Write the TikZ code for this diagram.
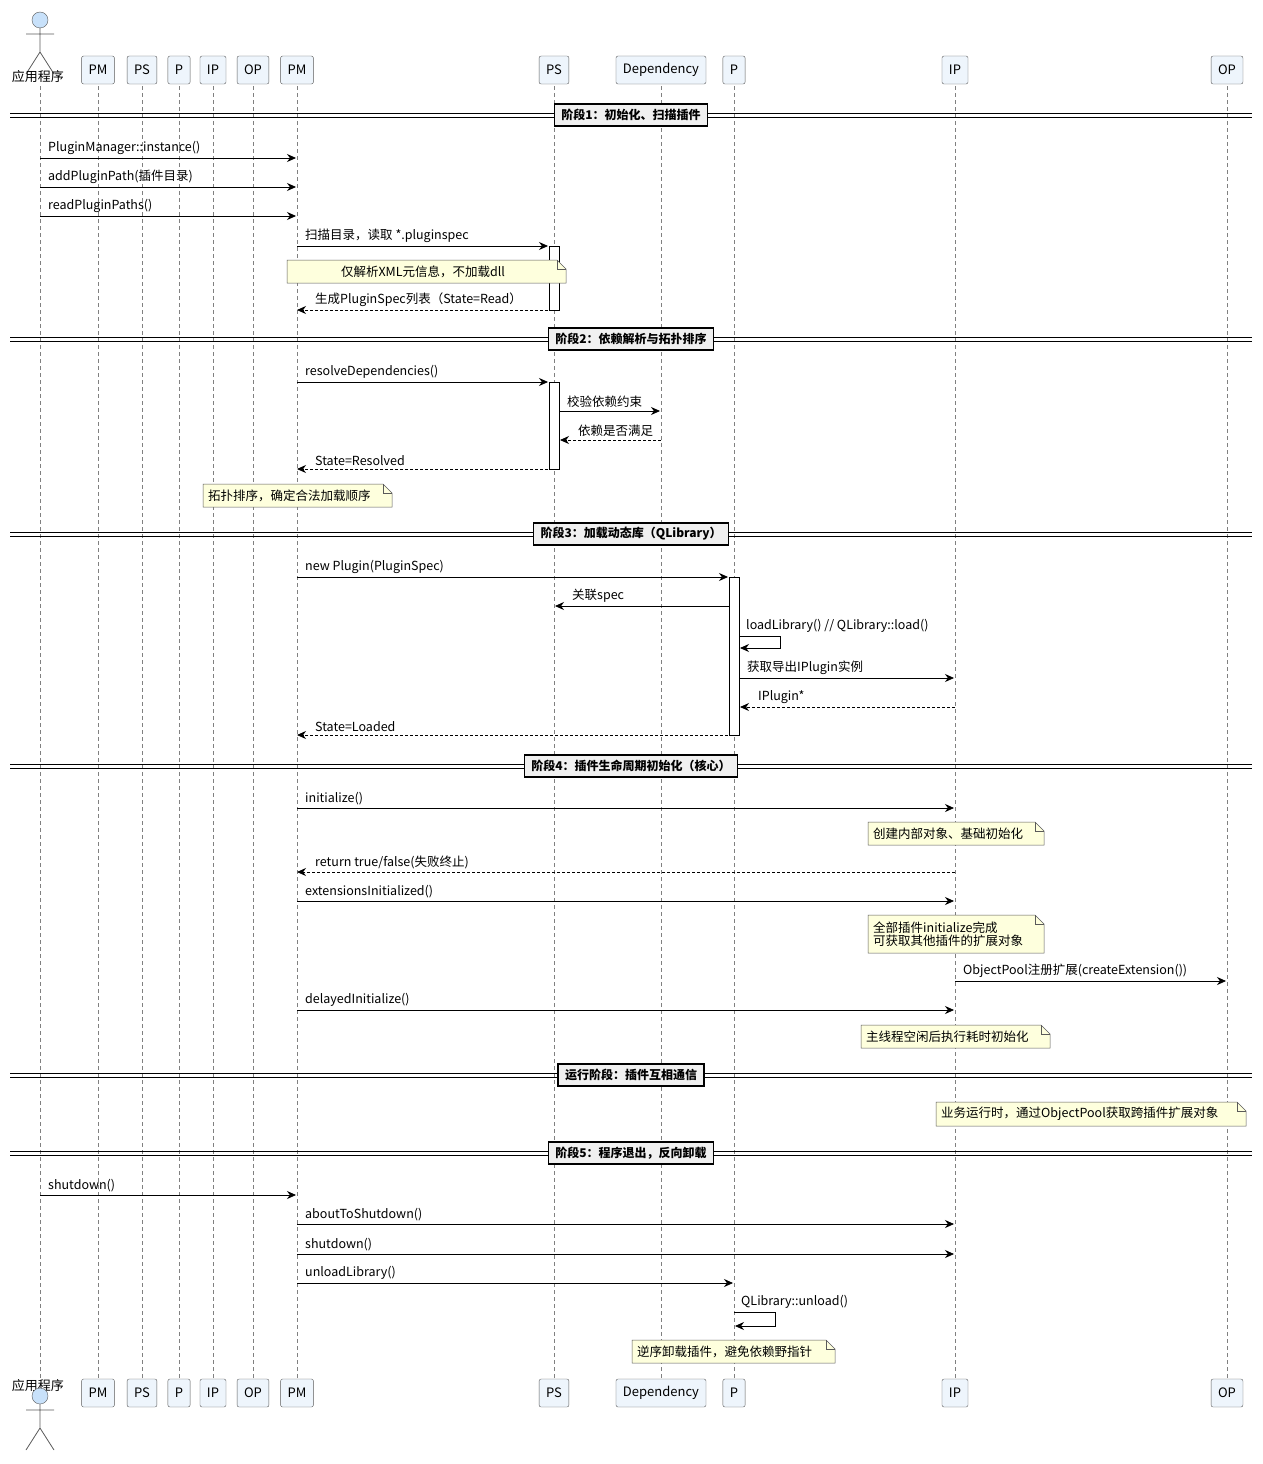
\documentclass[tikz,border=0pt]{standalone}
\usepackage{fontspec}
\setmainfont{Noto Sans CJK SC}
\usetikzlibrary{arrows.meta}
\definecolor{pbox}{RGB}{238,245,252}
\definecolor{notef}{RGB}{254,255,221}
\definecolor{lgray}{RGB}{90,90,90}
\definecolor{actf}{RGB}{200,225,250}
\tikzset{
 part/.style={draw=lgray,fill=pbox,rounded corners=2,minimum height=28,inner xsep=7,font=\fontsize{13}{15}\selectfont},
 life/.style={draw=gray,dash pattern=on 4 off 3,line width=0.6},
 msg/.style={-{Stealth[length=9,width=8]},line width=0.8},
 ret/.style={msg,dash pattern=on 3 off 2},
 lab/.style={font=\fontsize{12.5}{14.5}\selectfont,inner sep=0},
 divbox/.style={draw,line width=1.2,fill=gray!12,font=\bfseries\fontsize{12}{14}\selectfont,inner xsep=7,minimum height=22},
 act/.style={draw,fill=white,line width=0.7},
 notes/.style={draw=lgray,fill=notef,line width=0.5},
}
\newcommand{\rmsg}[5]{\draw[#5] (#2,#1) -- (#3,#1);
 \node[lab,anchor=south west] at (#2+8,#1-3) {#4};}
\newcommand{\lmsg}[5]{\draw[#5] (#2,#1) -- (#3,#1);
 \node[lab,anchor=south west] at (#3+18,#1-3) {#4};}
\newcommand{\mynote}[6]{\draw[notes] (#1,#2) -- (#3-9,#2) -- (#3,#2+9) -- (#3,#4) -- (#1,#4) -- cycle;
 \draw[notes,fill=none] (#3-9,#2) -- (#3-9,#2+9) -- (#3,#2+9);
 \node[lab,align=left,anchor=west] at (#1+5,#2/2+#4/2) {#5};}
\newcommand{\divider}[2]{\draw[line width=0.8] (10,#1-2) -- (1252,#1-2) (10,#1+2) -- (1252,#1+2);
 \node[divbox] at (631,#1) {#2};}
\newcommand{\actor}[2]{\draw[lgray,fill=actf] (#1,#2) circle (8);
 \draw[lgray,line width=0.8] (#1,#2+8) -- (#1,#2+32) (#1-14,#2+14) -- (#1+14,#2+14) (#1-14,#2+54) -- (#1,#2+32) -- (#1+14,#2+54);}
\begin{document}
\begin{tikzpicture}[x=1pt,y=-1pt]
\useasboundingbox (0,0) rectangle (1262,1464);
\foreach \x in {40,98,142,179,213,253,297,554,661,734,955,1227} \draw[life] (\x,86) -- (\x,1378);
\foreach \y/\s in {70/t,1393/b}{
 \foreach \x/\t/\n in {98/PM/pm1,142/PS/ps1,179/P/p1,213/IP/ip1,253/OP/op1,297/PM/pm2,554/PS/ps2,661/Dependency/dep,734/P/p2,955/IP/ip2,1227/OP/op2}
  \node[part] (\n\s) at (\x,\y) {\t};
}
\actor{40}{20}
\node[lab,font=\fontsize{13}{15}\selectfont] (appt) at (38,77) {应用程序};
\node[lab,font=\fontsize{13}{15}\selectfont] (appb) at (38,1386) {应用程序};
\actor{40}{1396}
\draw[act] (549,246) rectangle (559,310);
\draw[act] (549,382) rectangle (559,469);
\draw[act] (729,577) rectangle (739,735);
\divider{115}{阶段1：初始化、扫描插件}
\rmsg{158}{40}{296}{PluginManager::instance()}{msg}
\rmsg{187}{40}{296}{addPluginPath(插件目录)}{msg}
\rmsg{216}{40}{296}{readPluginPaths()}{msg}
\rmsg{246}{297}{548}{扫描目录，读取 *.pluginspec}{msg}
\draw[notes] (287,260) -- (557,260) -- (566,269) -- (566,283) -- (287,283) -- cycle;
\draw[notes,fill=none] (557,260) -- (557,269) -- (566,269);
\node[lab] at (423,271.5) {仅解析XML元信息，不加载dll};
\lmsg{310}{548}{297}{生成PluginSpec列表（State=Read）}{ret}
\divider{339}{阶段2：依赖解析与拓扑排序}
\rmsg{382}{297}{548}{resolveDependencies()}{msg}
\rmsg{411}{559}{660}{校验依赖约束}{msg}
\lmsg{440}{661}{560}{依赖是否满足}{ret}
\lmsg{469}{548}{297}{State=Resolved}{ret}
\mynote{203}{484}{392}{507}{拓扑排序，确定合法加载顺序}{}
\divider{534}{阶段3：加载动态库（QLibrary）}
\rmsg{577}{297}{728}{new Plugin(PluginSpec)}{msg}
\draw[msg] (729,606) -- (555,606);
\node[lab,anchor=south west] at (572,603) {关联spec};
\draw[msg] (739,636) -- (780,636) -- (780,648) -- (740,648);
\node[lab,anchor=south west] at (746,633) {loadLibrary() // QLibrary::load()};
\rmsg{678}{739}{954}{获取导出IPlugin实例}{msg}
\lmsg{707}{955}{740}{IPlugin*}{ret}
\lmsg{735}{728}{297}{State=Loaded}{ret}
\divider{766}{阶段4：插件生命周期初始化（核心）}
\rmsg{808}{297}{954}{initialize()}{msg}
\mynote{868}{822}{1044}{845}{创建内部对象、基础初始化}{}
\lmsg{872}{955}{297}{return true/false(失败终止)}{ret}
\rmsg{901}{297}{954}{extensionsInitialized()}{msg}
\mynote{868}{915}{1044}{953}{全部插件initialize完成\\[-1pt]可获取其他插件的扩展对象}{}
\rmsg{981}{955}{1226}{ObjectPool注册扩展(createExtension())}{msg}
\rmsg{1010}{297}{954}{delayedInitialize()}{msg}
\mynote{861}{1025}{1050}{1048}{主线程空闲后执行耗时初始化}{}
\divider{1075}{运行阶段：插件互相通信}
\mynote{936}{1102}{1246}{1126}{业务运行时，通过ObjectPool获取跨插件扩展对象}{}
\divider{1153}{阶段5：程序退出，反向卸载}
\rmsg{1195}{40}{296}{shutdown()}{msg}
\rmsg{1224}{297}{954}{aboutToShutdown()}{msg}
\rmsg{1254}{297}{954}{shutdown()}{msg}
\rmsg{1283}{297}{733}{unloadLibrary()}{msg}
\draw[msg] (734,1312) -- (775,1312) -- (775,1326) -- (735,1326);
\node[lab,anchor=south west] at (741,1309) {QLibrary::unload()};
\mynote{632}{1340}{835}{1363}{逆序卸载插件，避免依赖野指针}{}
\end{tikzpicture}
\end{document}
